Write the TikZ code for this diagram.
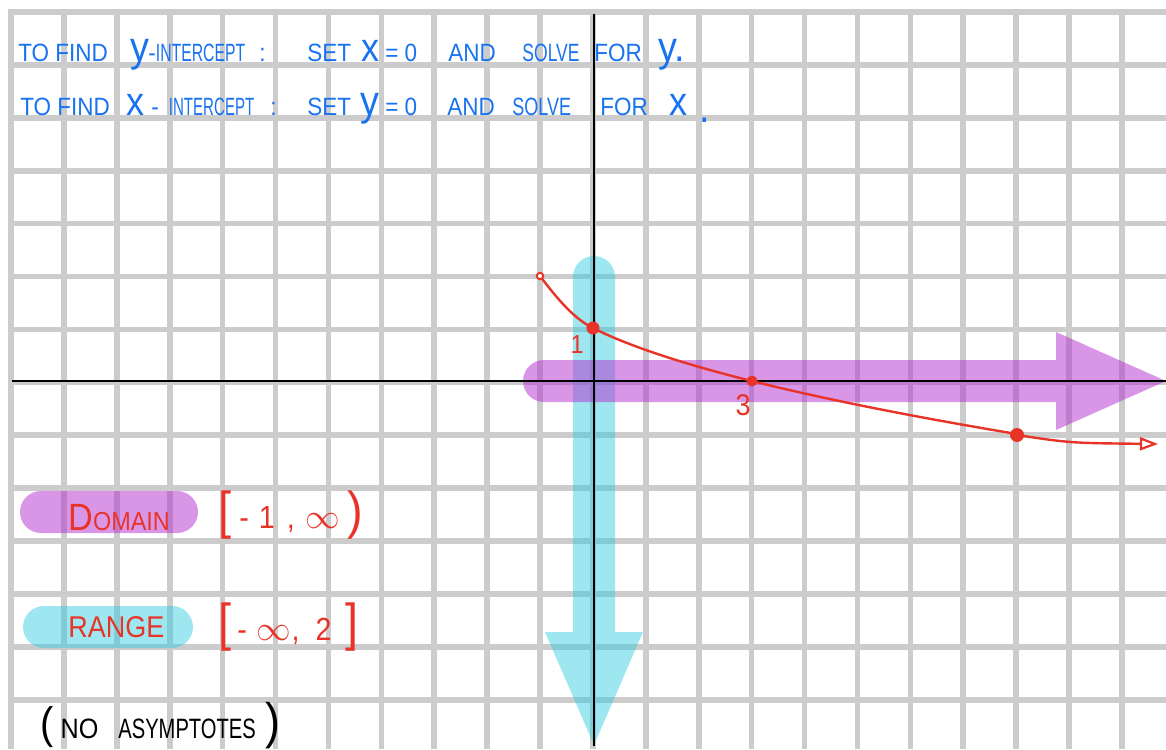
\documentclass[tikz,border=0pt]{standalone}
\usepackage{fontspec}
\usepackage{graphicx}
\usetikzlibrary{arrows.meta}
\newfontfamily\hand[FakeStretch=0.9]{Liberation Sans}
\definecolor{gridgray}{RGB}{204,204,204}
\definecolor{pen}{RGB}{25,115,240}
\definecolor{redpen}{RGB}{232,52,40}
\definecolor{purp}{RGB}{180,45,205}
\definecolor{cyanb}{RGB}{40,200,222}
\tikzset{
  gridline/.style={gridgray, line width=2.8pt},
  axisline/.style={black, line width=0.9pt},
  bluetxt/.style={pen, font=\hand\fontsize{12.5}{14}\selectfont, anchor=base west, inner sep=0pt},
  bigvar/.style={pen, font=\hand\fontsize{21}{24}\selectfont, anchor=base west, inner sep=0pt},
  redtxt/.style={redpen, font=\hand\fontsize{15}{17}\selectfont, anchor=base west, inner sep=0pt},
  blacktxt/.style={black, font=\hand\fontsize{14}{16}\selectfont, anchor=base west, inner sep=0pt},
  curveline/.style={redpen, line width=1.2pt, line join=round, line cap=round},
  purpband/.style={fill=purp, fill opacity=0.5},
  cyanband/.style={fill=cyanb, fill opacity=0.45},
}
\begin{document}
\begin{tikzpicture}[x=0.5pt,y=-0.5pt]
\useasboundingbox (0,0) rectangle (1166,749);
% grid
\foreach \k in {0,...,21} \draw[gridline] ({11+52.9*\k},9) -- ({11+52.9*\k},749);
\foreach \k in {0,...,13} \draw[gridline] (8,{12+52.9*\k}) -- (1166,{12+52.9*\k});
% range band (cyan, down arrow)
\fill[cyanband] (573,632) -- (573,277) arc[start angle=180, end angle=360, radius=21]
  -- (615,632) -- (643,632) -- (594,745) -- (545,632) -- cycle;
% domain band (purple, right arrow)
\fill[purpband] (1056,360) -- (544,360) arc[start angle=270, end angle=90, radius=21]
  -- (1056,402) -- (1056,430) -- (1166,381) -- (1056,332) -- cycle;
% axes
\coordinate (xl) at (12,381);
\coordinate (xr) at (1166,381);
\coordinate (yt) at (594,14);
\coordinate (yb) at (594,746);
\draw[axisline] (xl) -- (xr);
\draw[axisline] (yt) -- (yb);
% curve y = 2 - sqrt(x+1)
\coordinate (s) at (540,276);
\coordinate (yi) at (593,328);
\coordinate (xi) at (752,381);
\coordinate (p8) at (1017,435);
\coordinate (e) at (1158,444);
\draw[curveline] (s) .. controls (553,293) and (572,318) .. (yi);
\draw[curveline] plot[domain=0:8, samples=80] ({593+52.9*\x},{381-52.9*(2-sqrt(\x+1))});
\draw[curveline, -{Triangle[open, length=9pt, width=6.5pt, line width=1.1pt]}] (p8) .. controls (1070,443) .. (e);
\fill[redpen] (yi) circle[radius=6.5];
\fill[redpen] (xi) circle[radius=5.5];
\fill[redpen] (p8) circle[radius=7];
\draw[redpen, line width=1pt, fill=white] (s) circle[radius=3.2];
\node[redtxt, anchor=center, font=\hand\fontsize{13}{14}\selectfont] (one) at (577,345) {1};
\node[redtxt, anchor=center, font=\hand\fontsize{15}{16}\selectfont] (three) at (743,405) {3};
% blue notes line 1
\node[bluetxt] (l1a) at (18,62) {TO FIND};
\node[bigvar] (l1b) at (130,62) {y};
\node[bluetxt] (l1c) at (148,62) {-\scalebox{0.7}[1]{INTERCEPT}};
\node[bluetxt] (l1d) at (259,62) {:};
\node[bluetxt] (l1e) at (307,62) {SET};
\node[bigvar, font=\hand\fontsize{20}{22}\selectfont] (l1f) at (361,62) {x};
\node[bluetxt] (l1g) at (385,62) {=\hspace{3pt}0};
\node[bluetxt] (l1h) at (448,62) {AND};
\node[bluetxt] (l1i) at (522,62) {\scalebox{0.78}[1]{SOLVE}};
\node[bluetxt] (l1j) at (594,62) {FOR};
\node[bigvar] (l1k) at (658,62) {y.};
% blue notes line 2
\node[bluetxt] (l2a) at (20,116) {TO FIND};
\node[bigvar, font=\hand\fontsize{20}{22}\selectfont] (l2b) at (126,116) {x};
\node[bluetxt] (l2c) at (151,116) {-\hspace{5pt}\scalebox{0.67}[1]{INTERCEPT}};
\node[bluetxt] (l2d) at (270,116) {:};
\node[bluetxt] (l2e) at (307,116) {SET};
\node[bigvar] (l2f) at (360,116) {y};
\node[bluetxt] (l2g) at (385,116) {=\hspace{3pt}0};
\node[bluetxt] (l2h) at (447,116) {AND};
\node[bluetxt] (l2i) at (512,116) {\scalebox{0.8}[1]{SOLVE}};
\node[bluetxt] (l2j) at (600,116) {FOR};
\node[bigvar, font=\hand\fontsize{20}{22}\selectfont] (l2k) at (669,116) {x};
\node[bigvar] (l2l) at (699,123) {.};
% domain / range pills
\fill[purpband, rounded corners=10.5pt] (20,491) rectangle (198,533);
\fill[cyanband, rounded corners=10.5pt] (23,606) rectangle (193,648);
\node[redtxt, font=\hand\fontsize{13}{14}\selectfont] (dom) at (68,530) {{\fontsize{19}{20}\selectfont D}OMAIN};
\node[redtxt] (rng) at (68,637) {RANGE};
\node[redtxt, font=\hand\fontsize{16}{18}\selectfont] (domiv) at (218,528)
  {{\fontsize{26}{26}\selectfont[}\hspace{4pt}-\hspace{5pt}1\hspace{6pt},\hspace{5pt}$\infty$\hspace{4pt}{\fontsize{26}{26}\selectfont)}};
\node[redtxt, font=\hand\fontsize{16}{18}\selectfont] (rngiv) at (218,640)
  {{\fontsize{26}{26}\selectfont[}\hspace{3pt}-\hspace{5pt}$\infty$,\hspace{8pt}2\hspace{7pt}{\fontsize{26}{26}\selectfont]}};
% note
\node[blacktxt] (asym) at (40,738)
  {{\fontsize{22}{24}\selectfont(}\hspace{3.5pt}NO\hspace{10pt}\scalebox{0.8}[1]{ASYMPTOTES}\hspace{5pt}{\fontsize{25}{26}\selectfont)}};
\end{tikzpicture}
\end{document}
